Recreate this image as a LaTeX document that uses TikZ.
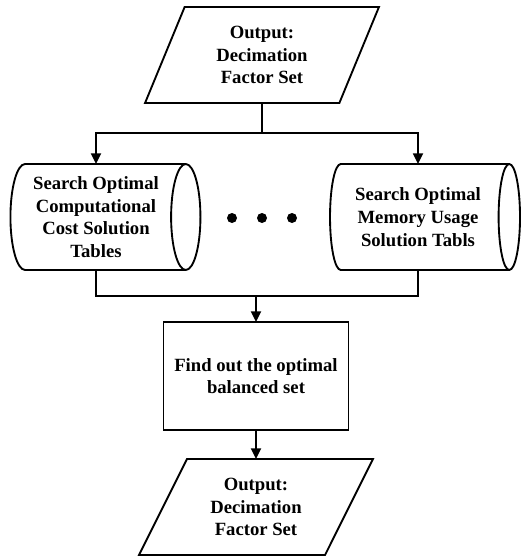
\documentclass[tikz,border=0pt]{standalone}
\usepackage{fontspec}
\setmainfont{Liberation Serif}
\usetikzlibrary{shapes.geometric, arrows.meta}
\tikzset{
every node/.style={font=\fontsize{14}{17}\selectfont\bfseries, align=center, outer sep=0pt}, % bold Times-like text everywhere
line/.style={line width=1.4pt},
flow/.style={line, -{Triangle[length=8pt,width=7.5pt]}}, % connector with filled head
io/.style={draw, line, trapezium, trapezium stretches=true, trapezium left angle=69, trapezium right angle=111, minimum width={234*0.75pt}, minimum height={96*0.75pt}},
db/.style={draw, line, cylinder, aspect=0.35, minimum height={190*0.75pt}, minimum width={106*0.75pt}, inner sep=1pt},
proc/.style={draw, line, rectangle, minimum width={185*0.75pt}, minimum height={108*0.75pt}},
dot/.style={circle, fill, inner sep=0pt, minimum size=7.5pt},
}

\begin{document}
\begin{tikzpicture}[x=0.75pt, y=-0.75pt]
        %% picture frame in pixels of the original
        \useasboundingbox (0,0) rectangle (524,556);
        %% the blocks
        \node[io] (in) at (262,55) {Output:\\Decimation\\Factor Set};
        \node[db] (cost) at (96,217) {Search Optimal\\Computational\\Cost Solution\\Tables};
        \node[db] (mem) at (418,217) {Search Optimal\\Memory Usage\\Solution Tabls};
        \node[dot] (d1) at (232,218) {};
        \node[dot] (d2) at (262,218) {};
        \node[dot] (d3) at (292,218) {};
        \node[proc] (find) at (256,376) {Find out the optimal\\balanced set};
        \node[io, trapezium left angle=62.5, trapezium right angle=117.5] (out) at (256,507) {Output:\\Decimation\\Factor Set};
        %% split and join points
        \coordinate (split) at (262,133);
        \coordinate (join) at (256,296);
        %% connectors
        \draw[flow] (in.south) -- (split) -| (cost.north);
        \draw[flow] (split) -| (mem.north);
        \draw[line] (cost.south) |- (join) -| (mem.south);
        \draw[flow] (join) -- (find.north);
        \draw[flow] (find.south) -- (out.north);
    \end{tikzpicture}
\end{document}
